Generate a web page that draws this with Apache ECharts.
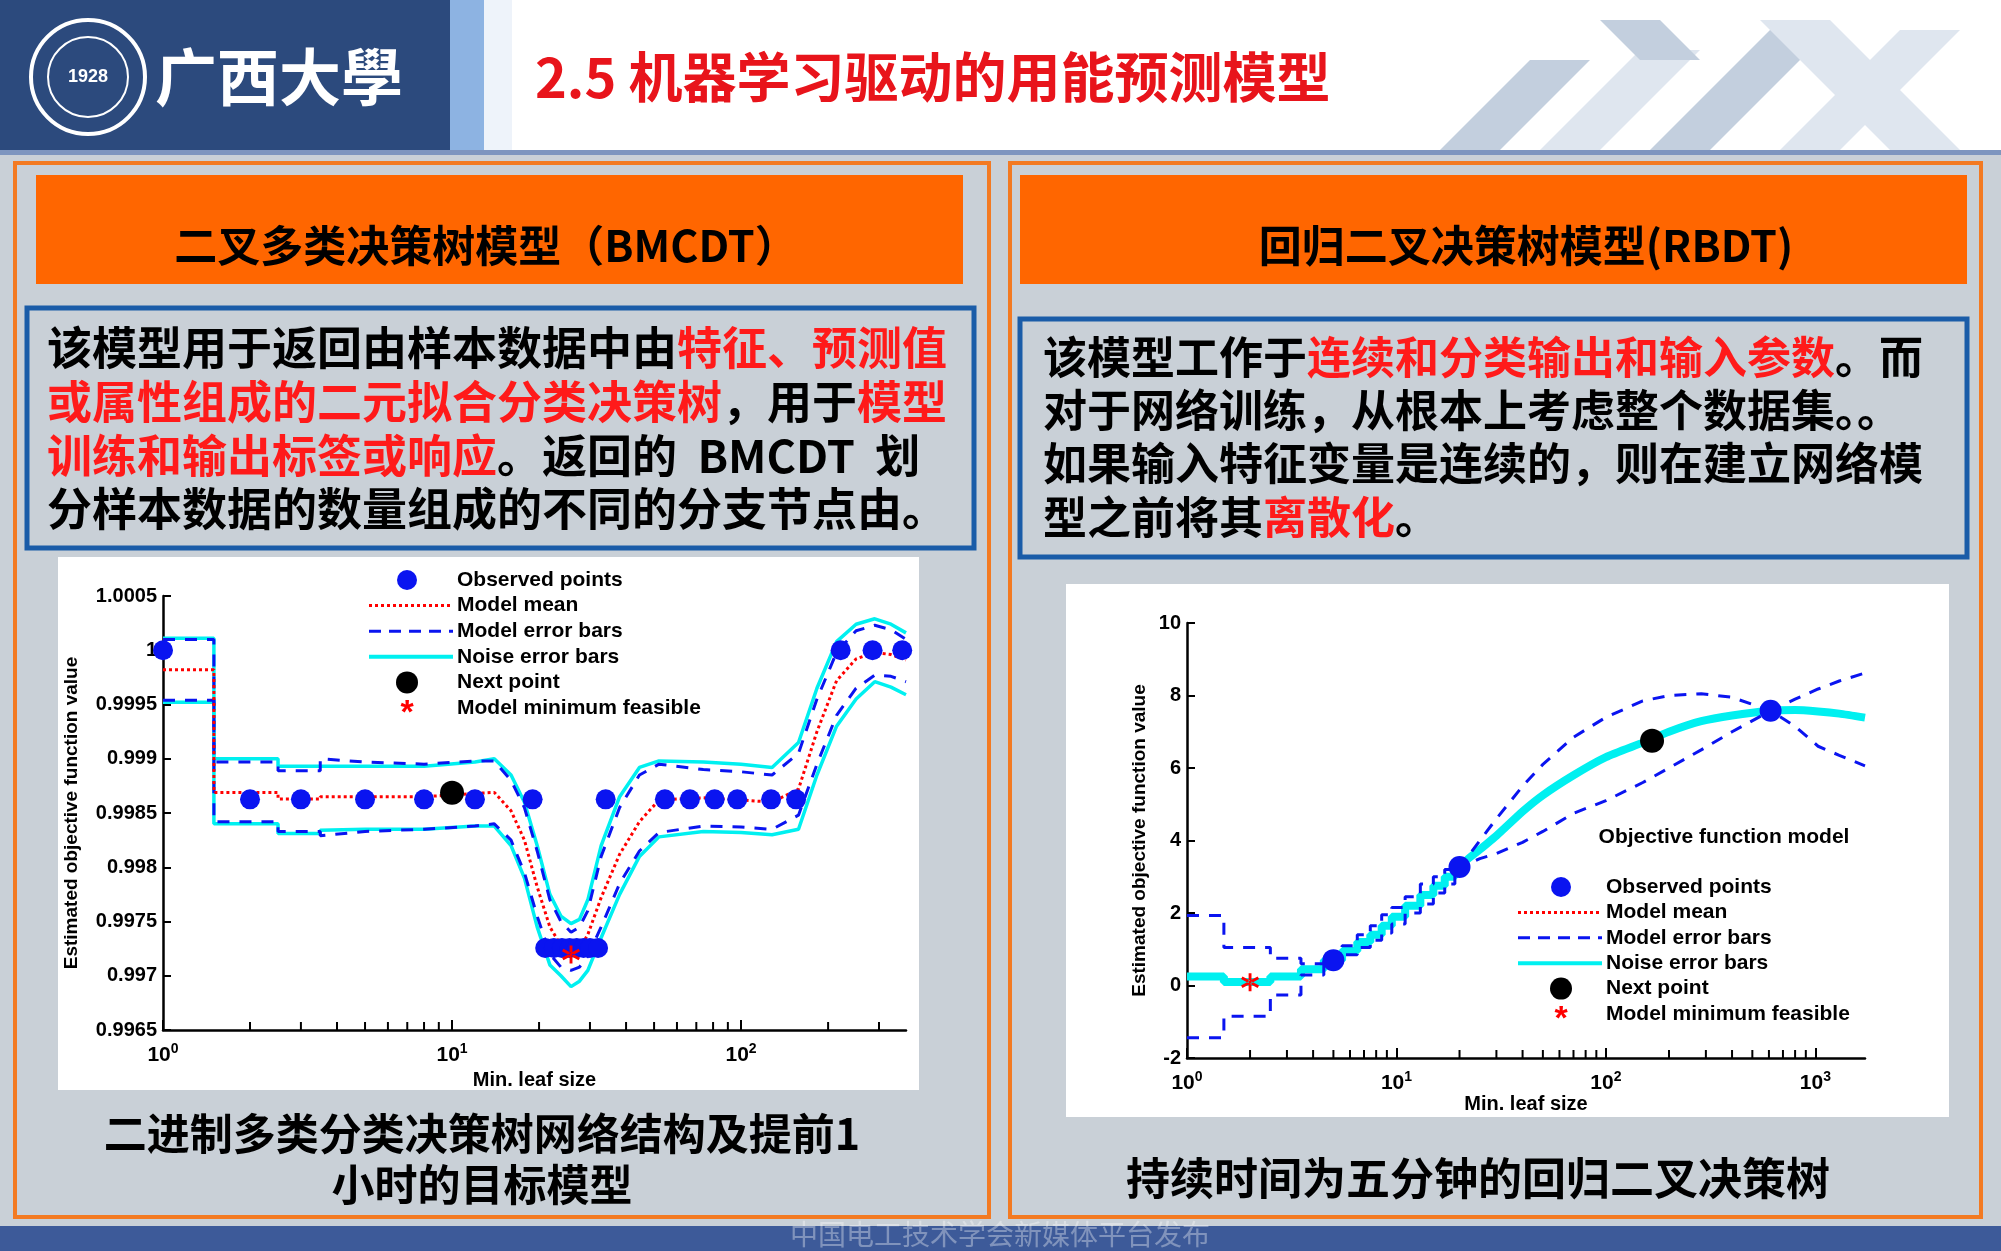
<!DOCTYPE html>
<html><head><meta charset="utf-8">
<script src="https://cdn.jsdelivr.net/npm/echarts@6/dist/echarts.min.js"></script>
<style>html,body{margin:0;padding:0;background:#fff}#c{width:2001px;height:1251px}</style>
</head><body><div id="c"></div>
<script>
// ---------- Left chart data (BMCDT) ----------
const L_x    = [1,1.5,1.5,2.5,2.5,3.5,3.5,5,8,12,14,16,17.8,19.7,21.8,23.8,25.8,27.6,29.5,32.8,38,44.5,52,74,100,128,158,183,214,250,290,330,372];
const L_mean = [0.99982,0.99982,0.99869,0.99869,0.99863,0.99863,0.99865,0.99865,0.99865,0.99868,0.99869,0.99852,0.99825,0.99782,0.99745,0.99728,0.99720,0.99725,0.99738,0.99772,0.99812,0.99842,0.99862,0.99864,0.99862,0.99860,0.99872,0.99925,0.99972,0.99992,0.99998,0.99996,0.99991];
const L_mUp  = [1.00010,1.00010,0.99897,0.99897,0.99889,0.99889,0.99900,0.99897,0.99895,0.99898,0.99898,0.99880,0.99855,0.99815,0.99770,0.99750,0.99740,0.99745,0.99760,0.99810,0.99855,0.99885,0.99895,0.99890,0.99888,0.99885,0.99905,0.99955,0.99998,1.00018,1.00023,1.00019,1.00010];
const L_mLo  = [0.99954,0.99954,0.99842,0.99842,0.99833,0.99833,0.99829,0.99833,0.99835,0.99838,0.99840,0.99825,0.99795,0.99755,0.99720,0.99708,0.99705,0.99708,0.99718,0.99745,0.99785,0.99815,0.99832,0.99838,0.99837,0.99835,0.99848,0.99895,0.99940,0.99965,0.99977,0.99976,0.99971];
const L_nUp  = [1.00011,1.00011,0.99900,0.99900,0.99893,0.99893,0.99893,0.99893,0.99893,0.99897,0.99900,0.99885,0.99860,0.99820,0.99775,0.99755,0.99748,0.99752,0.99770,0.99820,0.99865,0.99892,0.99898,0.99897,0.99895,0.99892,0.99915,0.99965,1.00008,1.00024,1.00029,1.00024,1.00016];
const L_nLo  = [0.99952,0.99952,0.99840,0.99840,0.99831,0.99831,0.99834,0.99835,0.99835,0.99838,0.99838,0.99820,0.99790,0.99745,0.99710,0.99700,0.99690,0.99695,0.99705,0.99735,0.99775,0.99810,0.99828,0.99833,0.99832,0.99830,0.99835,0.99885,0.99930,0.99955,0.99971,0.99966,0.99959];
const L_obsX = [1,2,3,5,8,12,19,34,54.5,66.5,81,97,127,155,221,285,361,21,22.5,24,25.5,27,28.5,30,32];
const L_obsY = [1.0,0.998626,0.998626,0.998626,0.998626,0.998626,0.998626,0.998626,0.998626,0.998626,0.998626,0.998626,0.998626,0.998626,1.0,1.0,1.0,0.997256,0.997256,0.997256,0.997256,0.997256,0.997256,0.997256,0.997256];
const L_next = [10, 0.998686];
const L_min  = [25.8, 0.997196];
const L_minor = [2,3,4,5,6,7,8,9,20,30,40,50,60,70,80,90,200,300];
// ---------- Right chart data (RBDT) ----------
const R_stepB = [1,1.5,2.5,3.5,4.5,5.5,6.5,7.5,8.5,9.5,11,13,15,17,19,21];
const R_stepMean = [0.25,0.1,0.25,0.45,0.7,0.95,1.2,1.4,1.65,1.9,2.2,2.5,2.75,3.0,3.25];
const R_stepUp   = [1.93,1.05,0.75,0.6,0.85,1.1,1.4,1.65,1.95,2.15,2.45,2.8,3.0,3.2,3.4];
const R_stepLo   = [-1.44,-0.85,-0.26,0.29,0.6,0.85,1.05,1.25,1.45,1.7,2.0,2.25,2.55,2.8,3.1];
const R_x    = [21,25,30,40,50,70,100,150,200,285,400,611,800,1030,1300,1725];
const R_mean = [3.35,3.75,4.13,4.8,5.25,5.8,6.3,6.7,7.0,7.29,7.45,7.58,7.6,7.56,7.5,7.39];
const R_up   = [3.45,4.0,4.6,5.5,6.1,6.85,7.4,7.85,8.0,8.05,7.95,7.58,7.15,6.6,6.35,6.06];
const R_lo   = [3.3,3.5,3.64,3.95,4.25,4.75,5.1,5.6,6.0,6.5,7.0,7.58,7.9,8.18,8.4,8.62];
const R_obsX = [5,20,611];
const R_obsY = [0.70,3.27,7.58];
const R_next = [166, 6.75];
const R_min  = [2, 0.09];
const R_minor = [2,3,4,5,6,7,8,9,20,30,40,50,60,70,80,90,200,300,400,500,600,700,800,900];

const zip = (xs, ys) => xs.map((x,i)=>[x,ys[i]]);
function stepCurve(vals, xs, ys){
  const pts=[];
  for(let i=0;i<vals.length;i++){pts.push([R_stepB[i],vals[i]]);pts.push([R_stepB[i+1],vals[i]]);}
  return pts.concat(zip(xs,ys));
}
const STAR='path://M-1.5,-10 L1.5,-10 L1.5,10 L-1.5,10 Z M7.91,6.3 L9.41,3.7 L-7.91,-6.3 L-9.41,-3.7 Z M-7.91,6.3 L-9.41,3.7 L7.91,-6.3 L9.41,-3.7 Z';
const F='Arial, "Liberation Sans", sans-serif';
const CJK='"Noto Sans CJK SC", sans-serif';
const supLabel = v => { const e=Math.round(Math.log10(v)); return Math.abs(Math.log10(v)-e)<1e-6 ? '{b|10}{s|'+e+'}' : ''; };
const rich = {b:{fontSize:21,fontWeight:'bold',fontFamily:F,color:'#000'},s:{fontSize:14,fontWeight:'bold',fontFamily:F,color:'#000',verticalAlign:'top',padding:[0,0,12,0]}};

function minorSeries(xi, yi, ticks, ymin){
  return {type:'custom',xAxisIndex:xi,yAxisIndex:yi,silent:true,z:5,data:ticks.map(t=>[t,ymin]),
    renderItem:(p,api)=>{const c=api.coord([api.value(0),api.value(1)]);
      return {type:'line',shape:{x1:c[0],y1:c[1],x2:c[0],y2:c[1]-8},style:{stroke:'#000',lineWidth:2}};}};
}

const chart = echarts.init(document.getElementById('c'));
const g = [];
g.push({type:'rect',shape:{x:0,y:0,width:2001,height:1251},style:{fill:'#c9d0d7'},z:-10});
g.push({type:'rect',shape:{x:0,y:0,width:2001,height:154},style:{fill:'#ffffff'},z:-9});
g.push({type:'rect',shape:{x:0,y:0,width:450,height:154},style:{fill:'#2c4a7d'},z:-8});
g.push({type:'rect',shape:{x:450,y:0,width:34,height:154},style:{fill:'#8db3e2'},z:-8});
g.push({type:'rect',shape:{x:484,y:0,width:28,height:154},style:{fill:'#eef3fa'},z:-8});
g.push({type:'rect',shape:{x:0,y:150,width:2001,height:5},style:{fill:'#7d95bf'},z:-8});
[[1440,150,1530,60,1590,60,1500,150],[1540,150,1640,50,1700,50,1600,150],[1650,150,1770,30,1830,30,1710,150],[1780,150,1900,30,1960,30,1840,150],[1600,20,1660,20,1700,60,1640,60],[1760,20,1830,20,1960,150,1890,150]].forEach((p,i)=>{
  g.push({type:'polygon',shape:{points:[[p[0],p[1]],[p[2],p[3]],[p[4],p[5]],[p[6],p[7]]]},style:{fill:i%2?'#dfe6ef':'#c3cfde'},z:-7});
});
g.push({type:'circle',shape:{cx:88,cy:77,r:57},style:{fill:'#2c4a7d',stroke:'#fff',lineWidth:4},z:-6});
g.push({type:'circle',shape:{cx:88,cy:77,r:40},style:{fill:'none',stroke:'#fff',lineWidth:2},z:-6});
g.push({type:'text',x:88,y:77,style:{text:'1928',fill:'#fff',font:'bold 18px '+F,align:'center',verticalAlign:'middle'},z:-5});
g.push({type:'text',x:155,y:77,style:{text:'广西大學',fill:'#fff',font:'bold 62px '+CJK,verticalAlign:'middle'},z:-5});
g.push({type:'text',x:535,y:77,style:{text:'2.5 机器学习驱动的用能预测模型',fill:'#e8141b',font:'bold 54px '+CJK,verticalAlign:'middle'},z:-5});
[[15,163,974,1054],[1010,163,971,1054]].forEach(r=>g.push({type:'rect',shape:{x:r[0],y:r[1],width:r[2],height:r[3]},style:{fill:'#c9d0d7',stroke:'#f37a22',lineWidth:4},z:-6}));
[[36,175,927,109],[1020,175,947,109]].forEach(r=>g.push({type:'rect',shape:{x:r[0],y:r[1],width:r[2],height:r[3]},style:{fill:'#ff6600'},z:-5}));
g.push({type:'text',x:486,y:246,style:{text:'二叉多类决策树模型（BMCDT）',fill:'#000',font:'bold 43px '+CJK,align:'center',verticalAlign:'middle'},z:-4});
g.push({type:'text',x:1526,y:246,style:{text:'回归二叉决策树模型(RBDT)',fill:'#000',font:'bold 43px '+CJK,align:'center',verticalAlign:'middle'},z:-4});
g.push({type:'rect',shape:{x:27,y:308,width:947,height:240},style:{fill:'#c9d0d7',stroke:'#1a5ca8',lineWidth:5},z:-5});
g.push({type:'rect',shape:{x:1020,y:319,width:947,height:238},style:{fill:'#c9d0d7',stroke:'#1a5ca8',lineWidth:5},z:-5});
function tline(x,y,txt,fs){
  const tr = {k:{fill:'#000',font:'bold '+fs+'px '+CJK},r:{fill:'#ff1a1a',font:'bold '+fs+'px '+CJK}};
  g.push({type:'text',x:x,y:y,style:{text:txt,rich:tr,verticalAlign:'middle',font:'bold '+fs+'px '+CJK},z:-4});}
tline(47,348,'{k|该模型用于返回由样本数据中由}{r|特征、预测值}',45);
tline(47,402,'{r|或属性组成的二元拟合分类决策树}{k|，用于}{r|模型}',45);
tline(47,456,'{r|训练和输出标签或响应}{k|。返回的  BMCDT  划}',45);
tline(47,509,'{k|分样本数据的数量组成的不同的分支节点由。}',45);
tline(1043,357,'{k|该模型工作于}{r|连续和分类输出和输入参数}{k|。而}',44);
tline(1043,410,'{k|对于网络训练，从根本上考虑整个数据集。。}',44);
tline(1043,463,'{k|如果输入特征变量是连续的，则在建立网络模}',44);
tline(1043,517,'{k|型之前将其}{r|离散化}{k|。}',44);
g.push({type:'rect',shape:{x:58,y:557,width:861,height:533},style:{fill:'#fff'},z:-4});
g.push({type:'rect',shape:{x:1066,y:584,width:883,height:533},style:{fill:'#fff'},z:-4});
g.push({type:'text',x:482,y:1134,style:{text:'二进制多类分类决策树网络结构及提前1',fill:'#000',font:'bold 43px '+CJK,align:'center',verticalAlign:'middle'},z:-4});
g.push({type:'text',x:482,y:1185,style:{text:'小时的目标模型',fill:'#000',font:'bold 43px '+CJK,align:'center',verticalAlign:'middle'},z:-4});
g.push({type:'text',x:1478,y:1178,style:{text:'持续时间为五分钟的回归二叉决策树',fill:'#000',font:'bold 44px '+CJK,align:'center',verticalAlign:'middle'},z:-4});
g.push({type:'rect',shape:{x:0,y:1226,width:2001,height:25},style:{fill:'#3d5a99'},z:-4});
g.push({type:'text',x:1000,y:1234,style:{text:'中国电工技术学会新媒体平台发布',fill:'rgba(255,255,255,0.35)',font:'28px '+CJK,align:'center',verticalAlign:'middle'},z:-3});
function legend(mx, tx, y0, step){
  const names=['Observed points','Model mean','Model error bars','Noise error bars','Next point','Model minimum feasible'];
  names.forEach((n,i)=>g.push({type:'text',x:tx,y:y0+i*step,style:{text:n,fill:'#000',font:'bold 21px '+F,verticalAlign:'middle'},z:20}));
  g.push({type:'circle',shape:{cx:mx,cy:y0,r:10},style:{fill:'#0a14f0'},z:20});
  g.push({type:'line',shape:{x1:tx-88,y1:y0+step,x2:tx-4,y2:y0+step},style:{stroke:'#ff0000',lineWidth:3,lineDash:[3,3]},z:20});
  g.push({type:'line',shape:{x1:tx-88,y1:y0+2*step,x2:tx-4,y2:y0+2*step},style:{stroke:'#0a14f0',lineWidth:3,lineDash:[12,8]},z:20});
  g.push({type:'line',shape:{x1:tx-88,y1:y0+3*step,x2:tx-4,y2:y0+3*step},style:{stroke:'#00f0f0',lineWidth:4},z:20});
  g.push({type:'circle',shape:{cx:mx,cy:y0+4*step,r:11},style:{fill:'#000'},z:20});
  g.push({type:'text',x:mx,y:y0+5*step+6,style:{text:'*',fill:'#ff0000',font:'bold 34px '+F,align:'center',verticalAlign:'middle'},z:20});
}
legend(407,457,580,25.6);
legend(1561,1606,887,25.4);
g.push({type:'text',x:1724,y:837,style:{text:'Objective function model',fill:'#000',font:'bold 21px '+F,align:'center',verticalAlign:'middle'},z:20});

const nameStyle = {fontSize:20,fontWeight:'bold',fontFamily:F,color:'#000'};
function xAx(gi,max,gap){return {type:'log',gridIndex:gi,min:1,max:max,logBase:10,
  name:'Min. leaf size',nameLocation:'middle',nameGap:gap,nameTextStyle:nameStyle,
  axisLine:{onZero:false,lineStyle:{color:'#000',width:2.5}},axisTick:{inside:true,length:10,lineStyle:{color:'#000',width:2}},
  splitLine:{show:false},axisLabel:{formatter:supLabel,rich:rich,margin:12,showMaxLabel:false}};}
const yl = {fontSize:20,fontWeight:'bold',fontFamily:F,color:'#000'};
const yname = {fontSize:19,fontWeight:'bold',fontFamily:F,color:'#000'};
const option = {
  animation:false,
  graphic:g,
  grid:[{left:163,top:596,width:743,height:434},{left:1187,top:623,width:678,height:435}],
  xAxis:[xAx(0,372,40), xAx(1,1725,27)],
  yAxis:[{type:'value',gridIndex:0,min:0.9965,max:1.0005,interval:0.0005,
          axisLine:{show:true,onZero:false,lineStyle:{color:'#000',width:2.5}},axisTick:{show:true,inside:true,length:8,lineStyle:{color:'#000',width:2}},splitLine:{show:false},
          axisLabel:Object.assign({margin:6,formatter:v=>String(parseFloat(v.toFixed(4)))},yl),
          name:'Estimated objective function value',nameLocation:'middle',nameGap:82,nameRotate:90,nameTextStyle:yname},
         {type:'value',gridIndex:1,min:-2,max:10,interval:2,
          axisLine:{show:true,onZero:false,lineStyle:{color:'#000',width:2.5}},axisTick:{show:true,inside:true,length:8,lineStyle:{color:'#000',width:2}},splitLine:{show:false},
          axisLabel:Object.assign({margin:6},yl),
          name:'Estimated objective function value',nameLocation:'middle',nameGap:38,nameRotate:90,nameTextStyle:yname}],
  series:[
    minorSeries(0,0,L_minor,0.9965),
    minorSeries(1,1,R_minor,-2),
    {type:'line',xAxisIndex:0,yAxisIndex:0,data:zip(L_x,L_nUp),symbol:'none',lineStyle:{color:'#00f0f0',width:3.5},z:3},
    {type:'line',xAxisIndex:0,yAxisIndex:0,data:zip(L_x,L_nLo),symbol:'none',lineStyle:{color:'#00f0f0',width:3.5},z:3},
    {type:'line',xAxisIndex:0,yAxisIndex:0,data:zip(L_x,L_mUp),symbol:'none',lineStyle:{color:'#0a14f0',width:3,type:[12,10]},z:4},
    {type:'line',xAxisIndex:0,yAxisIndex:0,data:zip(L_x,L_mLo),symbol:'none',lineStyle:{color:'#0a14f0',width:3,type:[12,10]},z:4},
    {type:'line',xAxisIndex:0,yAxisIndex:0,data:zip(L_x,L_mean),symbol:'none',lineStyle:{color:'#ff0000',width:3,type:[3,3]},z:4},
    {type:'scatter',xAxisIndex:0,yAxisIndex:0,data:zip(L_obsX,L_obsY),symbol:'circle',symbolSize:20,itemStyle:{color:'#0a14f0',opacity:1},z:6},
    {type:'scatter',xAxisIndex:0,yAxisIndex:0,data:[L_next],symbolSize:24,itemStyle:{color:'#000',opacity:1},z:7},
    {type:'scatter',xAxisIndex:0,yAxisIndex:0,data:[L_min],symbol:STAR,symbolSize:18,itemStyle:{color:'#ff0000',opacity:1},z:8},

    {type:'line',xAxisIndex:1,yAxisIndex:1,data:stepCurve(R_stepMean,R_x,R_mean),symbol:'none',lineStyle:{color:'#ff0000',width:3,type:[3,3]},z:3},
    {type:'line',xAxisIndex:1,yAxisIndex:1,data:stepCurve(R_stepMean,R_x,R_mean),symbol:'none',smooth:0.2,lineStyle:{color:'#00f0f0',width:8},z:3},
    {type:'line',xAxisIndex:1,yAxisIndex:1,data:stepCurve(R_stepUp,R_x,R_up),symbol:'none',lineStyle:{color:'#0a14f0',width:3,type:[12,10]},z:4},
    {type:'line',xAxisIndex:1,yAxisIndex:1,data:stepCurve(R_stepLo,R_x,R_lo),symbol:'none',lineStyle:{color:'#0a14f0',width:3,type:[12,10]},z:4},
    {type:'scatter',xAxisIndex:1,yAxisIndex:1,data:zip(R_obsX,R_obsY),symbolSize:22,itemStyle:{color:'#0a14f0',opacity:1},z:6},
    {type:'scatter',xAxisIndex:1,yAxisIndex:1,data:[R_next],symbolSize:24,itemStyle:{color:'#000',opacity:1},z:7},
    {type:'scatter',xAxisIndex:1,yAxisIndex:1,data:[R_min],symbol:STAR,symbolSize:18,itemStyle:{color:'#ff0000',opacity:1},z:8}
  ]
};
chart.setOption(option);
</script></body></html>
